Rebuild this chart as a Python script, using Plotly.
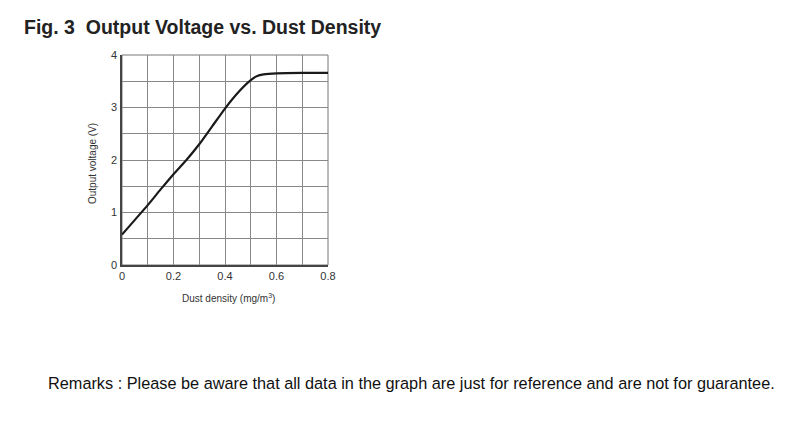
import plotly.graph_objects as go

# curve
density = [0, 0.05, 0.1, 0.15, 0.2, 0.25, 0.3, 0.35, 0.4, 0.45, 0.5, 0.525, 0.55, 0.6, 0.7, 0.8]
voltage = [0.58, 0.86, 1.14, 1.44, 1.73, 2.0, 2.3, 2.64, 2.98, 3.28, 3.52, 3.6, 3.63, 3.65, 3.66, 3.66]

x_ticks = [0, 0.2, 0.4, 0.6, 0.8]
x_labels = ['0', '0.2', '0.4', '0.6', '0.8']
y_ticks = [0, 1, 2, 3, 4]

W, H = 785, 444
OFF = 8  # page body margin
left, right, top, bottom = 122 - OFF, 328 - OFF, 55 - OFF, 265 - OFF

def px(x):
    return (x - OFF - left) / (right - left)

def py(y):
    return (bottom - (y - OFF)) / (bottom - top)

fig = go.Figure()
fig.add_trace(go.Scatter(x=density, y=voltage, mode='lines',
                         line=dict(color='#1a1a1a', width=2.2, shape='spline', smoothing=0.6),
                         showlegend=False, hoverinfo='skip'))

fig.update_layout(
    width=W, height=H,
    margin=dict(l=left, r=W - right, t=top, b=H - bottom),
    paper_bgcolor='white', plot_bgcolor='white',
    font=dict(family='Liberation Sans, Arial, sans-serif', color='#333333'),
    title=dict(text='<b>Fig. 3  Output Voltage vs. Dust Density</b>',
               xref='container', yref='container', x=(24 - OFF) / W, y=1 - (27 - OFF) / H,
               xanchor='left', yanchor='middle',
               font=dict(size=19.5, color='#222222', family='Liberation Sans, Arial, sans-serif')),
    xaxis=dict(range=[0, 0.8], tickvals=x_ticks, ticktext=x_labels,
               showgrid=True, gridcolor='#888888', gridwidth=1,
               minor=dict(dtick=0.1, showgrid=True, gridcolor='#888888', gridwidth=1),
               zeroline=False, showline=True, linecolor='#444444', linewidth=1.5,
               ticks='', tickfont=dict(size=11, color='#333333'), ticklabelstandoff=0),
    yaxis=dict(range=[0, 4], tickvals=y_ticks,
               showgrid=True, gridcolor='#888888', gridwidth=1,
               minor=dict(dtick=0.5, showgrid=True, gridcolor='#888888', gridwidth=1),
               zeroline=False, showline=True, linecolor='#444444', linewidth=1.5,
               ticks='', tickfont=dict(size=11, color='#333333'), ticklabelstandoff=1),
)

# frame top and right
fig.add_shape(type='rect', xref='paper', yref='paper', x0=0, y0=0, x1=1, y1=1,
              line=dict(color='#777777', width=1), layer='below')

fig.add_annotation(text='Output voltage (V)', xref='paper', yref='paper',
                   x=px(92), y=py(164), xanchor='center', yanchor='middle',
                   textangle=-90, showarrow=False,
                   font=dict(size=10, color='#333333'))
fig.add_annotation(text='Dust density (mg/m<sup>3</sup>)', xref='paper', yref='paper',
                   x=px(228), y=py(298), xanchor='center', yanchor='middle', showarrow=False,
                   font=dict(size=10, color='#333333'))
fig.add_annotation(text='Remarks : Please be aware that all data in the graph are just for reference and are not for guarantee.',
                   xref='paper', yref='paper', x=px(46), y=py(383), xanchor='left', yanchor='middle',
                   showarrow=False,
                   font=dict(size=16.3, color='#111111', family='Liberation Sans Narrow, Arial Narrow, Liberation Sans, sans-serif'))

fig.write_html('out.html')
